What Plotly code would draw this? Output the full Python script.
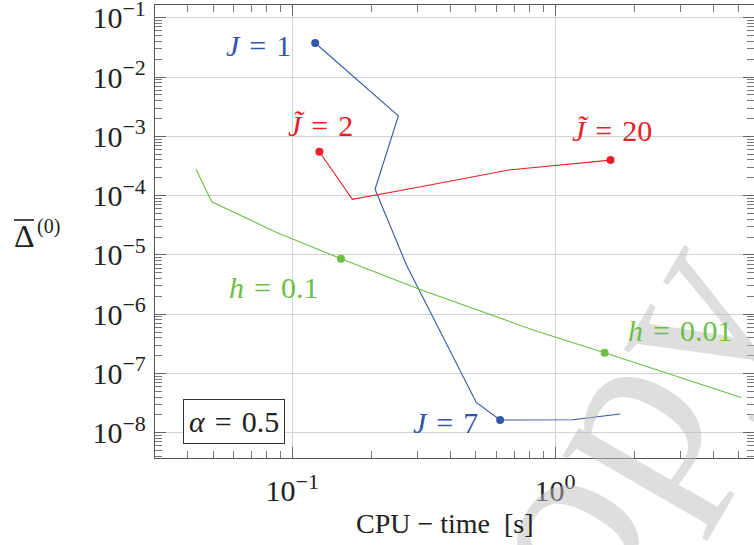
import plotly.graph_objects as go

# ---------------- data ----------------
j_cpu = [0.1223, 0.2535, 0.2066, 0.272, 0.5016, 0.618, 1.17, 1.77]
j_err = [3.76e-2, 2.22e-3, 1.28e-4, 6.77e-6, 3.24e-8, 1.64e-8, 1.66e-8, 2.07e-8]
j_mark_cpu = [0.1223, 0.618]
j_mark_err = [3.76e-2, 1.64e-8]

jt_cpu = [0.1269, 0.1694, 0.305, 0.667, 1.626]
jt_err = [5.49e-4, 8.65e-5, 1.40e-4, 2.70e-4, 3.98e-4]
jt_mark_cpu = [0.1269, 1.626]
jt_mark_err = [5.49e-4, 3.98e-4]

h_cpu = [0.0431, 0.0494, 0.0876, 0.1533, 0.305, 0.836, 1.544, 5.11]
h_err = [2.77e-4, 7.88e-5, 2.37e-5, 8.65e-6, 2.64e-6, 5.3e-7, 2.23e-7, 3.93e-8]
h_mark_cpu = [0.1533, 1.544]
h_mark_err = [8.65e-6, 2.23e-7]

SUP = "<sup><span style='font-size:22px'>{}</span></sup>"
y_tick_vals = [1e-1, 1e-2, 1e-3, 1e-4, 1e-5, 1e-6, 1e-7, 1e-8]
y_exps = ["−1", "−2", "−3", "−4", "−5", "−6", "−7", "−8"]
y_tick_text = ["10" + SUP.format(e) for e in y_exps]
x_tick_vals = [1e-1, 1e0]
x_exps = ["−1", "0"]
x_tick_text = ["10" + SUP.format(e) for e in x_exps]

BLUE = "#3556a8"
RED = "#ea2028"
GREEN = "#6cbf45"
FONT = "Liberation Serif"

W, H = 754, 545
ML, MR, MT, MB = 155, 0, 5, 87
PW, PH = W - ML - MR, H - MT - MB

def px(xp, yp):
    return (xp - ML) / PW, (H - MB - yp) / PH

fig = go.Figure()
for xs, ys, mx, my, c in [(j_cpu, j_err, j_mark_cpu, j_mark_err, BLUE),
                          (jt_cpu, jt_err, jt_mark_cpu, jt_mark_err, RED),
                          (h_cpu, h_err, h_mark_cpu, h_mark_err, GREEN)]:
    fig.add_trace(go.Scatter(x=xs, y=ys, mode="lines", line=dict(color=c, width=1.1),
                             showlegend=False, hoverinfo="skip"))
    fig.add_trace(go.Scatter(x=mx, y=my, mode="markers", marker=dict(color=c, size=8),
                             showlegend=False, hoverinfo="skip"))

minor_vals = []
for k in range(-10, 2):
    for m in range(2, 10):
        minor_vals.append(m * 10.0 ** k)

axis_common = dict(type="log", showline=True, linecolor="#555555", linewidth=1.3,
                   mirror="allticks", ticks="inside", ticklen=11, tickcolor="#666666",
                   showgrid=True, gridcolor="#d2d2d2", gridwidth=1, zeroline=False,
                   automargin=False, ticklabeloverflow="allow",
                   tickfont=dict(family=FONT, size=30, color="#222222"),
                   minor=dict(ticks="inside", ticklen=7, tickcolor="#777777",
                              tickmode="array", tickvals=minor_vals, showgrid=False))

fig.update_xaxes(range=[-1.522, 0.757], tickmode="array", tickvals=x_tick_vals,
                 ticktext=x_tick_text, ticklabelstandoff=6, **axis_common)
fig.update_yaxes(range=[-8.426, -0.784], tickmode="array", tickvals=y_tick_vals,
                 ticktext=y_tick_text, ticklabelstandoff=2, **axis_common)

def lab(text, xp, yp, color, size=30, **kw):
    x, y = px(xp, yp)
    fig.add_annotation(text=text, x=x, y=y, xref="paper", yref="paper", showarrow=False,
                       font=dict(family=FONT, size=size, color=color), xanchor="center",
                       yanchor="middle", **kw)

# watermark
lab("copy", 590, 470, "rgba(190,190,190,0.5)", size=250, textangle=-60)

S = "\u2004"
lab(f"<i>J</i>{S}={S}1", 258, 45, BLUE)
lab(f"<i>J̃</i>{S}={S}2", 320, 125, RED)
lab(f"<i>J̃</i>{S}={S}20", 612, 130, RED)
lab(f"<i>h</i>{S}={S}0.1", 273, 287, GREEN)
lab(f"<i>h</i>{S}={S}0.01", 680, 330, GREEN)
lab(f"<i>J</i>{S}={S}7", 445, 422, BLUE)
lab(f"<i>α</i>{S}={S}0.5", 234, 421, "#222222", bordercolor="#333333", borderwidth=1,
    borderpad=5, bgcolor="white")

lab("CPU − time  [s]", 445, 523, "#222222", size=28)
lab("Δ", 24, 236, "#222222", size=32)
lab("(0)", 48, 227, "#222222", size=20)
bx0, by = px(14, 220)
bx1, _ = px(34, 220)
fig.add_shape(type="line", xref="paper", yref="paper", x0=bx0, x1=bx1, y0=by, y1=by,
              line=dict(color="#222222", width=1.6))

fig.update_layout(width=W, height=H, margin=dict(l=ML, r=MR, t=MT, b=MB),
                  plot_bgcolor="white", paper_bgcolor="white")
fig.write_html("out.html", config={"displayModeBar": False},
               post_script="document.body.style.margin='0';document.body.style.overflow='hidden';")
